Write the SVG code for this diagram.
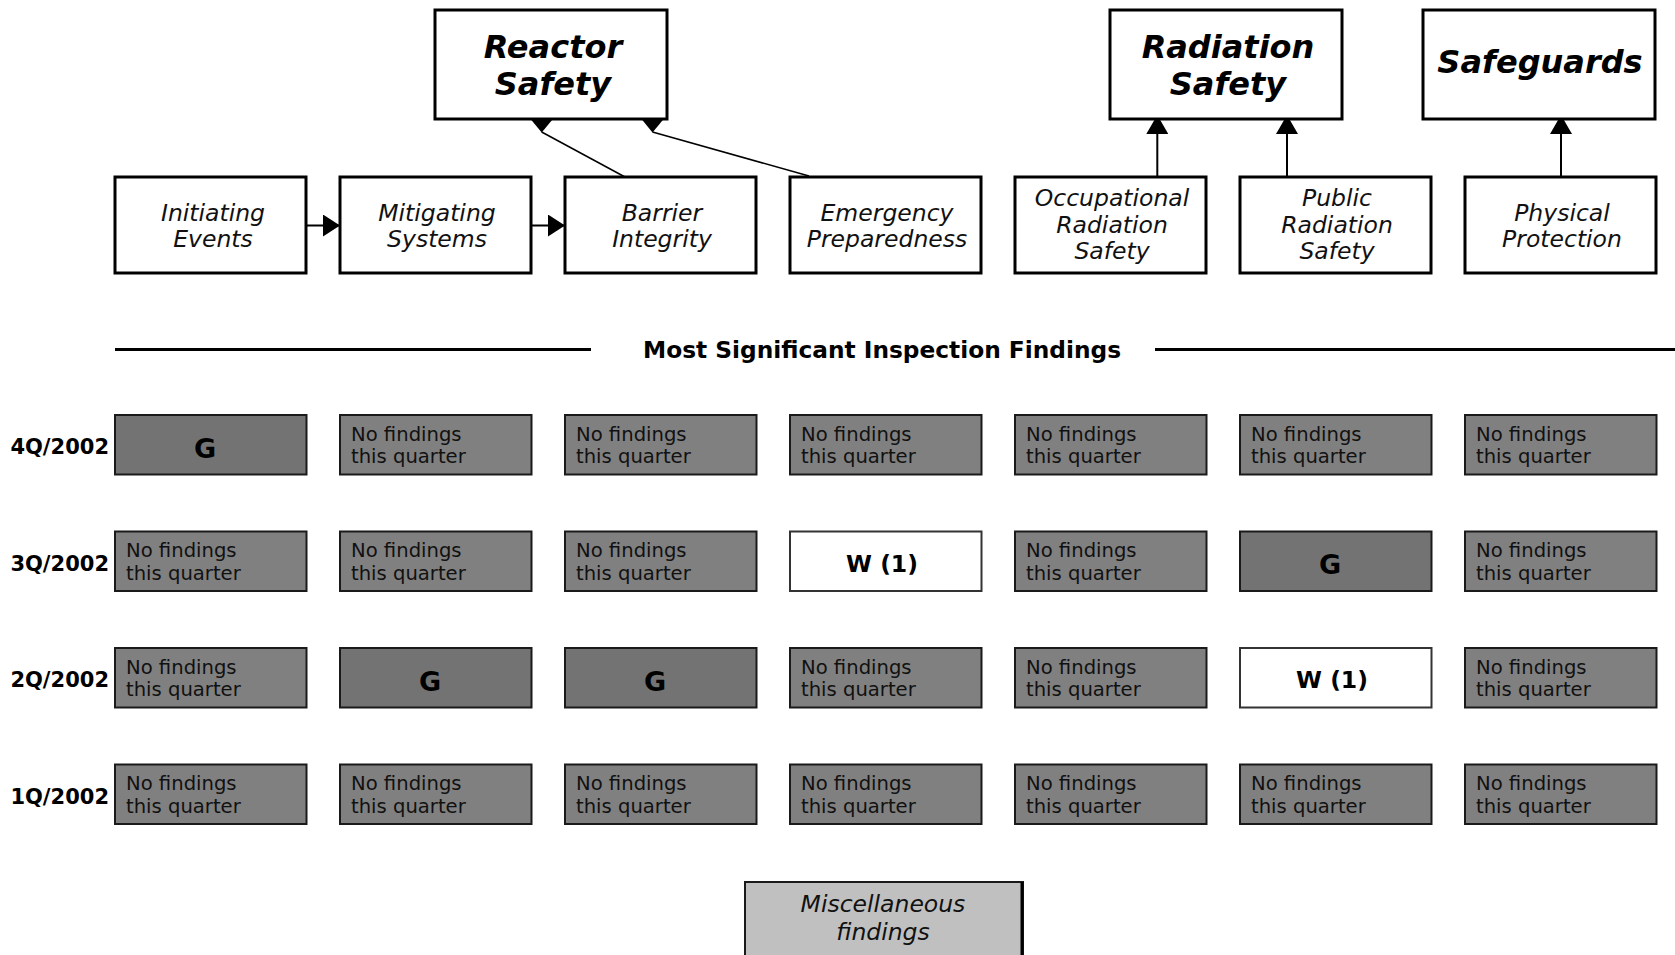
<svg xmlns="http://www.w3.org/2000/svg" width="1675" height="955" viewBox="0 0 1675 955">
<style>
.bg{fill:#ffffff}
.top{fill:#ffffff;stroke:#000;stroke-width:3}
.sub{fill:#ffffff;stroke:#000;stroke-width:3}
.nf{fill:#808080;stroke:#1a1a1a;stroke-width:2}
.g{fill:#737373;stroke:#1a1a1a;stroke-width:2}
.w{fill:#ffffff;stroke:#333;stroke-width:2}
.misc{fill:#c0c0c0;stroke:#1a1a1a;stroke-width:2}
.ttl{font-family:"DejaVu Sans","Liberation Sans",sans-serif;font-weight:bold;font-style:italic;font-size:32px;fill:#000;text-anchor:middle}
.lbl{font-family:"DejaVu Sans","Liberation Sans",sans-serif;font-style:italic;font-size:23.5px;fill:#111;text-anchor:middle}
.nft{font-family:"DejaVu Sans","Liberation Sans",sans-serif;font-size:19.6px;fill:#111}
.gt{font-family:"DejaVu Sans","Liberation Sans",sans-serif;font-weight:bold;font-size:27px;fill:#000;text-anchor:middle}
.wt{font-family:"DejaVu Sans","Liberation Sans",sans-serif;font-weight:bold;font-size:23.5px;fill:#000;text-anchor:middle}
.row{font-family:"DejaVu Sans","Liberation Sans",sans-serif;font-weight:bold;font-size:21px;fill:#000;text-anchor:end}
.hdr{font-family:"DejaVu Sans","Liberation Sans",sans-serif;font-weight:bold;font-size:23.3px;fill:#000;text-anchor:middle}
.ln{stroke:#000;fill:none}
</style>
<defs>
<marker id="ah" markerUnits="userSpaceOnUse" markerWidth="19" markerHeight="22" refX="19" refY="11" orient="auto">
<path d="M0,0 L19,11 L0,22 z" fill="#000"/>
</marker>
<marker id="ahh" markerUnits="userSpaceOnUse" markerWidth="17" markerHeight="22" refX="17" refY="11" orient="auto">
<path d="M0,0 L17,11 L0,22 z" fill="#000"/>
</marker>
</defs>
<rect class="bg" x="0" y="0" width="1675" height="955"/>

<g id="connectors">
<line class="ln" stroke-width="2" x1="307" y1="225.5" x2="340" y2="225.5" marker-end="url(#ahh)"/>
<line class="ln" stroke-width="2" x1="532" y1="225.5" x2="565" y2="225.5" marker-end="url(#ahh)"/>
<line class="ln" stroke-width="1.5" x1="625" y1="177" x2="541.7" y2="132"/>
<polygon points="530.5,119 552.9,119 541.7,132.5" fill="#000"/>
<line class="ln" stroke-width="1.5" x1="809" y1="176" x2="652.5" y2="132"/>
<polygon points="641.5,119 663.7,119 652.5,132.5" fill="#000"/>
<line class="ln" stroke-width="2" x1="1157.3" y1="177" x2="1157.3" y2="115" marker-end="url(#ah)"/>
<line class="ln" stroke-width="2" x1="1287" y1="177" x2="1287" y2="115" marker-end="url(#ah)"/>
<line class="ln" stroke-width="2" x1="1561" y1="177" x2="1561" y2="115" marker-end="url(#ah)"/>
</g>

<g id="reactor-safety">
<rect class="top" x="435" y="10" width="232" height="109"/>
<text class="ttl" x="553" y="58">Reactor</text>
<text class="ttl" x="553" y="95">Safety</text>
</g>
<g id="radiation-safety">
<rect class="top" x="1110" y="10" width="232" height="109"/>
<text class="ttl" x="1228" y="58">Radiation</text>
<text class="ttl" x="1228" y="95">Safety</text>
</g>
<g id="safeguards">
<rect class="top" x="1423" y="10" width="232" height="109"/>
<text class="ttl" x="1540" y="73">Safeguards</text>
</g>

<g id="initiating-events">
<rect class="sub" x="115" y="177" width="191" height="96"/>
<text class="lbl" x="213" y="220.5">Initiating</text>
<text class="lbl" x="213" y="246.5">Events</text>
</g>
<g id="mitigating-systems">
<rect class="sub" x="340" y="177" width="191" height="96"/>
<text class="lbl" x="437" y="220.5">Mitigating</text>
<text class="lbl" x="437" y="246.5">Systems</text>
</g>
<g id="barrier-integrity">
<rect class="sub" x="565" y="177" width="191" height="96"/>
<text class="lbl" x="662" y="220.5">Barrier</text>
<text class="lbl" x="662" y="246.5">Integrity</text>
</g>
<g id="emergency-preparedness">
<rect class="sub" x="790" y="177" width="191" height="96"/>
<text class="lbl" x="887" y="220.5">Emergency</text>
<text class="lbl" x="887" y="246.5">Preparedness</text>
</g>
<g id="occupational-radiation-safety">
<rect class="sub" x="1015" y="177" width="191" height="96"/>
<text class="lbl" x="1112" y="206">Occupational</text>
<text class="lbl" x="1112" y="232.5">Radiation</text>
<text class="lbl" x="1112" y="259">Safety</text>
</g>
<g id="public-radiation-safety">
<rect class="sub" x="1240" y="177" width="191" height="96"/>
<text class="lbl" x="1337" y="206">Public</text>
<text class="lbl" x="1337" y="232.5">Radiation</text>
<text class="lbl" x="1337" y="259">Safety</text>
</g>
<g id="physical-protection">
<rect class="sub" x="1465" y="177" width="191" height="96"/>
<text class="lbl" x="1562" y="220.5">Physical</text>
<text class="lbl" x="1562" y="246.5">Protection</text>
</g>

<g id="header">
<line class="ln" stroke-width="3" x1="115" y1="349.5" x2="591" y2="349.5"/>
<line class="ln" stroke-width="3" x1="1155" y1="349.5" x2="1675" y2="349.5"/>
<text class="hdr" x="882" y="358" textLength="478" lengthAdjust="spacingAndGlyphs">Most Significant Inspection Findings</text>
</g>

<g id="row-4q">
<text class="row" x="109" y="454">4Q/2002</text>
<rect class="g" x="115" y="415" width="191.5" height="59.5"/><text class="gt" x="205" y="457.5">G</text>
<rect class="nf" x="340" y="415" width="191.5" height="59.5"/><text class="nft" x="351" y="440.7">No findings</text><text class="nft" x="351" y="463.3">this quarter</text>
<rect class="nf" x="565" y="415" width="191.5" height="59.5"/><text class="nft" x="576" y="440.7">No findings</text><text class="nft" x="576" y="463.3">this quarter</text>
<rect class="nf" x="790" y="415" width="191.5" height="59.5"/><text class="nft" x="801" y="440.7">No findings</text><text class="nft" x="801" y="463.3">this quarter</text>
<rect class="nf" x="1015" y="415" width="191.5" height="59.5"/><text class="nft" x="1026" y="440.7">No findings</text><text class="nft" x="1026" y="463.3">this quarter</text>
<rect class="nf" x="1240" y="415" width="191.5" height="59.5"/><text class="nft" x="1251" y="440.7">No findings</text><text class="nft" x="1251" y="463.3">this quarter</text>
<rect class="nf" x="1465" y="415" width="191.5" height="59.5"/><text class="nft" x="1476" y="440.7">No findings</text><text class="nft" x="1476" y="463.3">this quarter</text>
</g>

<g id="row-3q">
<text class="row" x="109" y="570.5">3Q/2002</text>
<rect class="nf" x="115" y="531.5" width="191.5" height="59.5"/><text class="nft" x="126" y="557.2">No findings</text><text class="nft" x="126" y="579.8">this quarter</text>
<rect class="nf" x="340" y="531.5" width="191.5" height="59.5"/><text class="nft" x="351" y="557.2">No findings</text><text class="nft" x="351" y="579.8">this quarter</text>
<rect class="nf" x="565" y="531.5" width="191.5" height="59.5"/><text class="nft" x="576" y="557.2">No findings</text><text class="nft" x="576" y="579.8">this quarter</text>
<rect class="w" x="790" y="531.5" width="191.5" height="59.5"/><text class="wt" x="882" y="571.5">W (1)</text>
<rect class="nf" x="1015" y="531.5" width="191.5" height="59.5"/><text class="nft" x="1026" y="557.2">No findings</text><text class="nft" x="1026" y="579.8">this quarter</text>
<rect class="g" x="1240" y="531.5" width="191.5" height="59.5"/><text class="gt" x="1330" y="574">G</text>
<rect class="nf" x="1465" y="531.5" width="191.5" height="59.5"/><text class="nft" x="1476" y="557.2">No findings</text><text class="nft" x="1476" y="579.8">this quarter</text>
</g>

<g id="row-2q">
<text class="row" x="109" y="687">2Q/2002</text>
<rect class="nf" x="115" y="648" width="191.5" height="59.5"/><text class="nft" x="126" y="673.7">No findings</text><text class="nft" x="126" y="696.3">this quarter</text>
<rect class="g" x="340" y="648" width="191.5" height="59.5"/><text class="gt" x="430" y="690.5">G</text>
<rect class="g" x="565" y="648" width="191.5" height="59.5"/><text class="gt" x="655" y="690.5">G</text>
<rect class="nf" x="790" y="648" width="191.5" height="59.5"/><text class="nft" x="801" y="673.7">No findings</text><text class="nft" x="801" y="696.3">this quarter</text>
<rect class="nf" x="1015" y="648" width="191.5" height="59.5"/><text class="nft" x="1026" y="673.7">No findings</text><text class="nft" x="1026" y="696.3">this quarter</text>
<rect class="w" x="1240" y="648" width="191.5" height="59.5"/><text class="wt" x="1332" y="688">W (1)</text>
<rect class="nf" x="1465" y="648" width="191.5" height="59.5"/><text class="nft" x="1476" y="673.7">No findings</text><text class="nft" x="1476" y="696.3">this quarter</text>
</g>

<g id="row-1q">
<text class="row" x="109" y="803.5">1Q/2002</text>
<rect class="nf" x="115" y="764.5" width="191.5" height="59.5"/><text class="nft" x="126" y="790.2">No findings</text><text class="nft" x="126" y="812.8">this quarter</text>
<rect class="nf" x="340" y="764.5" width="191.5" height="59.5"/><text class="nft" x="351" y="790.2">No findings</text><text class="nft" x="351" y="812.8">this quarter</text>
<rect class="nf" x="565" y="764.5" width="191.5" height="59.5"/><text class="nft" x="576" y="790.2">No findings</text><text class="nft" x="576" y="812.8">this quarter</text>
<rect class="nf" x="790" y="764.5" width="191.5" height="59.5"/><text class="nft" x="801" y="790.2">No findings</text><text class="nft" x="801" y="812.8">this quarter</text>
<rect class="nf" x="1015" y="764.5" width="191.5" height="59.5"/><text class="nft" x="1026" y="790.2">No findings</text><text class="nft" x="1026" y="812.8">this quarter</text>
<rect class="nf" x="1240" y="764.5" width="191.5" height="59.5"/><text class="nft" x="1251" y="790.2">No findings</text><text class="nft" x="1251" y="812.8">this quarter</text>
<rect class="nf" x="1465" y="764.5" width="191.5" height="59.5"/><text class="nft" x="1476" y="790.2">No findings</text><text class="nft" x="1476" y="812.8">this quarter</text>
</g>

<g id="miscellaneous-findings">
<rect class="misc" x="745" y="882" width="278" height="80"/>
<line class="ln" stroke-width="3" x1="1022" y1="882" x2="1022" y2="955"/>
<text class="lbl" x="883" y="911.7">Miscellaneous</text>
<text class="lbl" x="883" y="940">findings</text>
</g>
</svg>
